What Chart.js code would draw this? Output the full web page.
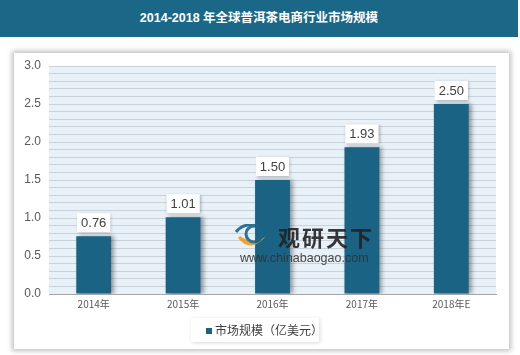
<!DOCTYPE html>
<html><head><meta charset="utf-8">
<script src="https://cdn.jsdelivr.net/npm/chart.js@4/dist/chart.umd.min.js"></script>
<style>
html,body{margin:0;padding:0;background:#fff;}
#wrap{position:relative;width:520px;height:355px;overflow:hidden;font-family:"Noto Sans CJK SC","Liberation Sans",sans-serif;}
#title{position:absolute;left:0;top:0;width:518px;height:37px;background:#1b6788;color:#fff;font-weight:bold;font-size:12.5px;line-height:37px;text-align:center;font-family:"Liberation Sans","Noto Sans CJK SC",sans-serif;}
#panel{position:absolute;left:14px;top:53px;width:495px;height:296px;background:#fff;box-shadow:0 0 5px 2px rgba(0,0,0,0.25);}
#c{position:absolute;left:0;top:0;}
#legend{position:absolute;left:191px;top:318px;width:128px;height:24px;background:#fff;box-shadow:1px 1px 4px rgba(0,0,0,0.15);font-size:12px;color:#404040;line-height:24px;white-space:nowrap;}
#legend span.sw{display:inline-block;width:6px;height:6px;background:#1a6385;margin:0 3px 1px 15px;vertical-align:middle;}
#wm{position:absolute;left:234px;top:218px;width:150px;height:50px;opacity:0.9;}
#wm .logo{position:absolute;left:0;top:6px;width:34px;height:26px;}
#wm .cn{position:absolute;left:44px;top:2px;font-size:22px;font-weight:bold;color:#222;letter-spacing:2px;}
#wm .url{position:absolute;left:6px;top:33px;font-size:12.5px;color:#333;font-family:"Liberation Sans",sans-serif;}
</style></head>
<body><div id="wrap">
<div id="title">2014-2018 年全球普洱茶电商行业市场规模</div>
<div id="panel"></div>
<canvas id="c" width="520" height="355"></canvas>
<div id="wm"><svg class="logo" viewBox="0 0 34 26"><path d="M4 14 Q17 30 32 12 Q20 22 6 12Z" fill="#f29a1f"/><circle cx="20" cy="10" r="8" fill="none" stroke="#1b6788" stroke-width="3"/><path d="M2 8 Q10 -2 24 2" stroke="#1b6788" stroke-width="3" fill="none"/></svg><span class="cn">观研天下</span><span class="url">www.chinabaogao.com</span></div>
<div id="legend"><span class="sw"></span>市场规模（亿美元）</div>
</div>
<script>
const categories = ["2014年","2015年","2016年","2017年","2018年E"];
const seriesName = "市场规模（亿美元）";
const values = [0.76, 1.01, 1.50, 1.93, 2.50];

const barShadow = {
  id:'barShadow',
  beforeDatasetsDraw(chart){const ctx=chart.ctx;ctx.save();ctx.shadowColor='rgba(0,0,0,0.35)';ctx.shadowBlur=4;ctx.shadowOffsetX=3;ctx.shadowOffsetY=0;},
  afterDatasetsDraw(chart){chart.ctx.restore();}
};
const plotBg = {
  id:'plotBg',
  beforeDraw(chart){const {ctx,chartArea:a}=chart;ctx.save();ctx.fillStyle='#e9f1f8';ctx.fillRect(a.left,a.top,a.right-a.left,a.bottom-a.top);ctx.restore();}
};
const labels = {
  id:'labels',
  afterDatasetsDraw(chart){
    const ctx=chart.ctx; const meta=chart.getDatasetMeta(0);
    ctx.save();
    ctx.font='13px "Liberation Sans", Arial, sans-serif';
    meta.data.forEach((bar,i)=>{
      const t=values[i].toFixed(2);
      const w=ctx.measureText(t).width+8, h=19;
      const x=bar.x-w/2, y=bar.y-4-h;
      ctx.shadowColor='rgba(0,0,0,0.3)';ctx.shadowBlur=3;ctx.shadowOffsetX=1;ctx.shadowOffsetY=1;
      ctx.fillStyle='#fff';ctx.fillRect(x,y,w,h);
      ctx.shadowColor='transparent';
      ctx.fillStyle='#404040';ctx.textAlign='center';ctx.textBaseline='middle';
      ctx.fillText(t,bar.x,y+h/2+1);
    });
    ctx.restore();
  }
};

new Chart(document.getElementById('c'),{
  type:'bar',
  data:{labels:categories,datasets:[{label:seriesName,data:values,backgroundColor:'#1a6385',categoryPercentage:1,barPercentage:0.39}]},
  options:{
    responsive:false,animation:false,
    layout:{padding:{left:0,top:66,right:24,bottom:41}},
    plugins:{legend:{display:false},tooltip:{enabled:false}},
    scales:{
      x:{grid:{display:false,drawTicks:false},border:{color:'#a6a6a6'},
         ticks:{color:'#595959',font:{size:10,family:'"Noto Sans CJK SC", sans-serif'},padding:4},
         afterFit(s){s.height=20;}},
      y:{min:0,max:3,
         grid:{color:'#c9d2da',lineWidth:1,drawTicks:false},
         border:{display:false},
         ticks:{stepSize:0.1,autoSkip:false,color:'#595959',font:{size:12,family:'"Liberation Sans", Arial, sans-serif'},padding:8,
           callback(v){const r=Math.round(v*10);return r%5===0?(r/10).toFixed(1):'';}},
         afterFit(s){s.width=49;}}
    }
  },
  plugins:[plotBg,barShadow,labels]
});
</script>
</body></html>
